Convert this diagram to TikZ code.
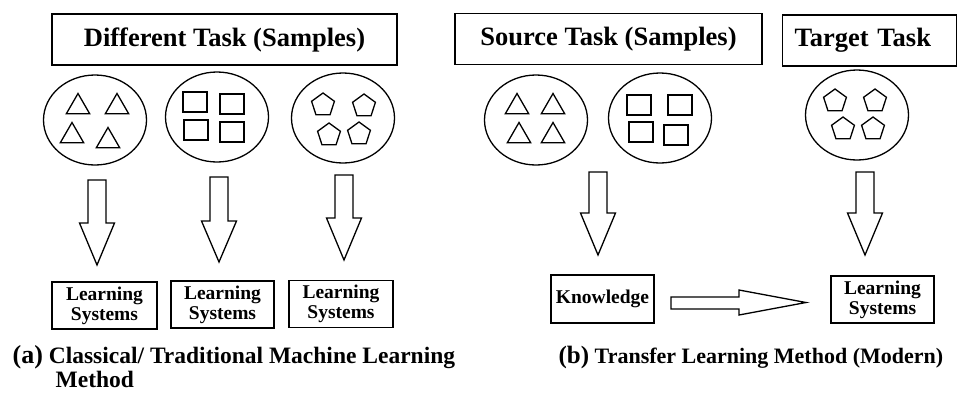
\documentclass[tikz,border=0pt]{standalone}
\usepackage{fontspec}
\setmainfont{Liberation Serif}
\usetikzlibrary{shapes.geometric}

\begin{document}
\begin{tikzpicture}[x=1pt, y=-1pt, line width=1.3pt,
    every node/.style={font=\bfseries},
    title/.style={draw, minimum height=51pt, font=\fontsize{26.5}{28}\selectfont\bfseries},
    pool/.style={draw, ellipse, minimum width=103pt, minimum height=90pt},
    sysbox/.style={draw, align=center, minimum width=104pt, minimum height=47pt,
        inner sep=0pt, font=\fontsize{19.5}{20}\selectfont\bfseries},
    tri/.style={draw, regular polygon, regular polygon sides=3, minimum size=27pt,
        inner sep=0pt, yshift=-3pt},
    sq/.style={draw, minimum width=24pt, minimum height=20pt, inner sep=0pt},
    pent/.style={draw, regular polygon, regular polygon sides=5, minimum size=24pt,
        inner sep=0pt, yshift=-1pt},
    caption/.style={anchor=base west, inner sep=0pt, font=\fontsize{23.5}{26}\selectfont\bfseries}]
    \useasboundingbox (0, 0) rectangle (963, 392);

    % task boxes
    \node[title, minimum width=345pt] (diff) at (224.5, 39.5) {Different Task (Samples)};
    \node[title, minimum width=307pt] (src) at (608.5, 39) {Source Task (Samples)};
    \node[title, text width=150pt, inner xsep=12pt, align=left] (tgt) at (869.5, 40.5) {Target Task};

    % sample pools
    \node[pool] (e1) at (95, 120) {};
    \node[pool] (e2) at (217, 117) {};
    \node[pool] (e3) at (343, 118) {};
    \node[pool] (e4) at (536, 120) {};
    \node[pool] (e5) at (660, 118) {};
    \node[pool] (e6) at (857, 115) {};

    \foreach \p [count=\i] in {
            {78, 104}, {117, 104}, {72, 133}, {108, 138},
            {517, 104}, {553, 104}, {519, 133}, {553, 133}} {
        \node[tri] (tri\i) at (\p) {};
    }
    \foreach \p [count=\i] in {
            {195, 102}, {232, 104}, {196, 130}, {232, 132},
            {639, 105}, {680, 105}, {641, 132}, {676, 135}} {
        \node[sq] (sq\i) at (\p) {};
    }
    \foreach \p [count=\i] in {
            {323, 104}, {364, 105}, {329, 134}, {359, 133},
            {835, 100}, {875, 100}, {843, 128}, {873, 128}} {
        \node[pent] (pent\i) at (\p) {};
    }

    % block arrows down
    \draw
        \foreach \x/\t/\b/\e in {
            97/180/223/265,
            219/177/221/262,
            344/175/218/260,
            598/172/213/255,
            865/172/213/255} {
            (\x-9, \t) -- (\x+9, \t) -- (\x+9, \b) -- (\x+17.5, \b) -- (\x, \e)
                -- (\x-17.5, \b) -- (\x-9, \b) -- cycle
        };

    % learning systems
    \node[sysbox, minimum width=105pt] (ls1) at (104.5, 305.5) {Learning\\Systems};
    \node[sysbox, minimum width=103pt] (ls2) at (222.5, 304.5) {Learning\\Systems};
    \node[sysbox] (ls3) at (341, 304) {Learning\\Systems};
    \node[sysbox, minimum width=103pt, minimum height=48pt] (know) at (602.5, 299) {Knowledge};
    \node[sysbox, minimum width=103pt] (ls4) at (882.5, 299.5) {Learning\\Systems};

    % transfer arrow
    \draw (671, 297) -- (739, 297) -- (739, 290) -- (806, 302.5)
        -- (739, 315) -- (739, 309) -- (671, 309) -- cycle;

    % captions
    \node[caption] (capa) at (12, 363)
        {{\fontsize{26}{30}\selectfont (a)} Classical/ Traditional Machine Learning};
    \node[caption] (capa2) at (55, 387) {Method};
    \node[caption, font=\fontsize{22}{26}\selectfont\bfseries] (capb) at (558, 363)
        {{\fontsize{25}{30}\selectfont (b)} Transfer Learning Method (Modern)};
\end{tikzpicture}
\end{document}
